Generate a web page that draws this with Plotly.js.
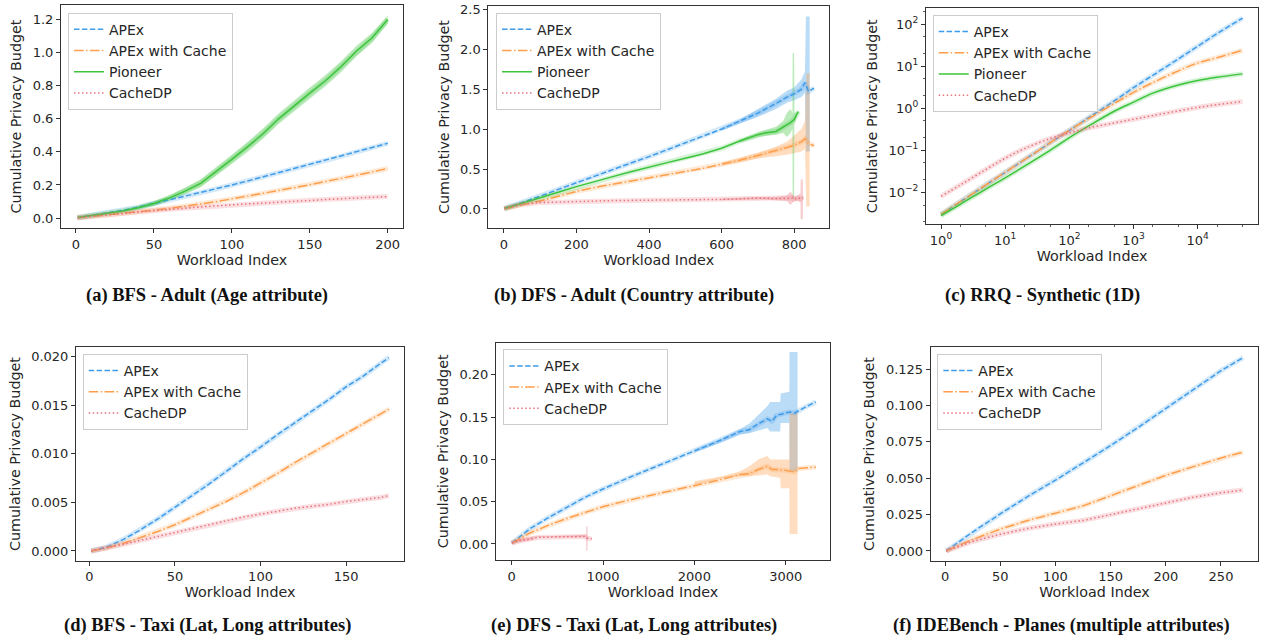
<!DOCTYPE html>
<html><head><meta charset="utf-8">
<script src="https://cdn.plot.ly/plotly-3.0.1.min.js"></script>
<style>body{margin:0;background:#fff}#chart{width:1262px;height:639px}</style>
</head><body><div id="chart"></div>
<script>
// ---------- Panel (a) BFS - Adult ----------
const aX = [1,10,20,30,40,50,60,70,80,90,100,110,120,130,140,150,160,170,180,190,200];
const aApex = [0.003,0.016,0.031,0.047,0.066,0.088,0.108,0.13,0.153,0.176,0.2,0.224,0.249,0.273,0.298,0.323,0.348,0.373,0.4,0.425,0.452];
const aCache = [0.002,0.01,0.018,0.027,0.037,0.048,0.059,0.071,0.084,0.099,0.116,0.132,0.149,0.166,0.184,0.202,0.22,0.239,0.259,0.279,0.3];
const aPioneer = [0.003,0.014,0.027,0.043,0.063,0.088,0.122,0.163,0.21,0.28,0.355,0.43,0.51,0.6,0.68,0.755,0.83,0.915,1.01,1.09,1.2];
const aPioneerLo = [0.003,0.011,0.021,0.035,0.053,0.075,0.106,0.143,0.186,0.254,0.327,0.4,0.479,0.568,0.647,0.721,0.797,0.882,0.978,1.06,1.175];
const aPioneerHi = [0.003,0.017,0.033,0.051,0.073,0.101,0.138,0.183,0.234,0.306,0.383,0.46,0.541,0.632,0.713,0.789,0.863,0.948,1.042,1.12,1.225];
const aCacheDP = [0.002,0.011,0.02,0.028,0.037,0.045,0.053,0.06,0.067,0.074,0.08,0.086,0.092,0.097,0.102,0.107,0.112,0.117,0.121,0.125,0.13];

// ---------- Panel (b) DFS - Adult ----------
const bX = [1,50,100,150,200,250,300,350,400,450,500,550,600,650,700,750,780,800,820,830,840,850,855];
const bApex = [0.005,0.08,0.16,0.245,0.33,0.41,0.49,0.575,0.655,0.74,0.83,0.915,1.0,1.1,1.2,1.32,1.4,1.44,1.5,1.58,1.47,1.5,1.51];
const bCache = [0.003,0.05,0.1,0.16,0.22,0.27,0.31,0.35,0.39,0.43,0.47,0.51,0.56,0.61,0.67,0.73,0.77,0.8,0.84,0.88,0.82,0.8,0.79];
const bPX = [1,50,100,150,200,250,300,350,400,450,500,550,600,650,700,720,750,770,780,790,800,812];
const bPioneer = [0.005,0.07,0.14,0.21,0.28,0.345,0.405,0.465,0.525,0.58,0.635,0.69,0.76,0.85,0.93,0.95,0.97,1.02,1.05,1.08,1.12,1.22];
const bCX = [1,50,100,200,300,400,500,600,700,750,780,795,800,810,818,825];
const bCacheDP = [0.005,0.06,0.08,0.095,0.105,0.11,0.115,0.12,0.135,0.13,0.13,0.14,0.12,0.14,0.13,0.14];
const bApexBandX = [600,650,700,750,780,800,820,830,832.5,843];
const bApexBandHi = [1.02,1.12,1.25,1.38,1.48,1.52,1.62,1.72,2.41,2.41];
const bApexBandLo = [0.98,1.07,1.15,1.25,1.33,1.36,1.4,1.45,0.72,0.72];
const bCacheBandX = [600,700,750,780,800,820,830,833.5,843];
const bCacheBandHi = [0.58,0.7,0.78,0.84,0.92,1.0,1.1,1.7,1.7];
const bCacheBandLo = [0.54,0.63,0.66,0.68,0.7,0.72,0.75,0.03,0.03];
const bPioneerBandX = [650,700,750,770,780,790,795.5,796,800,800.5,801,812];
const bPioneerBandHi = [0.87,0.96,1.03,1.1,1.2,1.25,1.2,1.95,1.95,1.2,1.2,1.22];
const bPioneerBandLo = [0.83,0.9,0.93,0.95,0.9,0.95,1.0,0.13,0.13,1.05,1.05,1.22];
const bCacheDPBandX = [600,700,750,780,790,800,810,817.5,818,824,824.5,826];
const bCacheDPBandHi = [0.13,0.15,0.15,0.17,0.22,0.16,0.17,0.2,0.37,0.37,0.16,0.16];
const bCacheDPBandLo = [0.11,0.12,0.11,0.1,0.05,0.1,0.1,0.08,-0.13,-0.13,0.12,0.12];

// ---------- Panel (c) RRQ - Synthetic (log-log) ----------
const cX = [1,2,5,10,20,50,100,200,500,1000,2000,5000,10000,20000,50000];
const cApex = [0.003,0.006,0.015,0.03,0.06,0.15,0.3,0.6,1.5,3.1,6.1,15,30,60,140];
const cCache = [0.003,0.006,0.015,0.03,0.06,0.15,0.3,0.57,1.3,2.4,4.1,7.8,12,16,24];
const cPioneer = [0.0028,0.0052,0.012,0.022,0.042,0.1,0.2,0.38,0.85,1.4,2.3,3.6,4.6,5.5,6.6];
const cCacheDP = [0.008,0.015,0.035,0.065,0.11,0.19,0.26,0.34,0.45,0.55,0.67,0.87,1.05,1.22,1.45];

// ---------- Panel (d) BFS - Taxi ----------
const dX = [1,10,20,30,40,50,60,70,80,90,100,110,120,130,140,150,160,170,175];
const dApex = [0,0.0004,0.0012,0.0022,0.0033,0.0045,0.0057,0.0069,0.0082,0.0095,0.0107,0.012,0.0132,0.0144,0.0156,0.0169,0.018,0.0193,0.0199];
const dCache = [0,0.0003,0.0008,0.0014,0.002,0.0027,0.0035,0.0043,0.0051,0.006,0.007,0.008,0.0091,0.0101,0.0111,0.0121,0.0131,0.0141,0.0146];
const dCacheDP = [0,0.0003,0.0007,0.0011,0.0015,0.0019,0.0023,0.0027,0.0031,0.0035,0.0038,0.0041,0.0044,0.0046,0.0048,0.0051,0.0053,0.0055,0.0057];

// ---------- Panel (e) DFS - Taxi ----------
const eX = [1,100,200,400,600,800,1000,1250,1500,1750,2000,2250,2500,2600,2700,2800,2850,2900,3000,3050,3100,3130,3200,3330];
const eApex = [0.001,0.01,0.018,0.031,0.043,0.055,0.065,0.077,0.088,0.099,0.11,0.121,0.133,0.135,0.142,0.148,0.145,0.152,0.155,0.156,0.155,0.157,0.161,0.168];
const eCache = [0.001,0.007,0.013,0.022,0.03,0.037,0.044,0.051,0.057,0.063,0.069,0.075,0.082,0.083,0.088,0.092,0.088,0.088,0.087,0.086,0.085,0.089,0.09,0.091];
const eCX = [1,50,100,150,200,250,300,400,500,600,700,800,820,850,876];
const eCacheDP = [0.001,0.003,0.004,0.005,0.006,0.0075,0.0078,0.008,0.0082,0.0085,0.009,0.0088,0.007,0.006,0.006];
const eApexBandX = [2000,2300,2500,2600,2800,2830,2940,2945,3040,3042,3130];
const eApexBandHi = [0.112,0.125,0.136,0.142,0.163,0.168,0.168,0.178,0.18,0.227,0.227];
const eApexBandLo = [0.108,0.12,0.129,0.131,0.137,0.133,0.133,0.143,0.143,0.0856,0.0856];
const eCacheBandX = [2000,2300,2500,2600,2700,2800,2830,2940,2945,3040,3042,3130];
const eCacheBandHi = [0.074,0.08,0.086,0.092,0.1,0.104,0.1,0.1,0.1,0.1,0.155,0.155];
const eCacheBandLo = [0.07,0.077,0.08,0.08,0.081,0.082,0.08,0.078,0.066,0.066,0.0118,0.0118];
const eCacheDPBandX = [1,50,100,150,200,240,250,400,600,800,815,816,830,831,840,850];
const eCacheDPBandHi = [0.002,0.005,0.006,0.007,0.008,0.008,0.009,0.009,0.01,0.011,0.011,0.021,0.021,0.009,0.008,0.007];
const eCacheDPBandLo = [0.0,0.001,0.002,0.003,0.004,0.005,0.008,0.008,0.008,0.008,0.007,-0.008,-0.008,0.006,0.006,0.006];

// ---------- Panel (f) IDEBench - Planes ----------
const fX = [1,25,50,75,100,125,150,175,200,225,250,270];
const fApex = [0.0,0.013,0.0255,0.0375,0.0487,0.0605,0.0725,0.085,0.098,0.111,0.124,0.133];
const fCache = [0,0.008,0.015,0.021,0.026,0.031,0.038,0.045,0.052,0.058,0.064,0.068];
const fCacheDP = [0,0.0065,0.0115,0.0155,0.0185,0.021,0.025,0.029,0.033,0.037,0.04,0.042];

const captions = ['(a) BFS - Adult (Age attribute)','(b) DFS - Adult (Country attribute)','(c) RRQ - Synthetic (1D)',
  '(d) BFS - Taxi (Lat, Long attributes)','(e) DFS - Taxi (Lat, Long attributes)','(f) IDEBench - Planes (multiple attributes)'];

// ---------- styling ----------
const W = 1262, H = 639;
const COL = {apex:'#3d9be9', cache:'#ff9e4a', pioneer:'#3cc43c', cachedp:'#e8737b'};
const DASH = {apex:'5.5px,2.4px', cache:'9.6px,2.4px,1.5px,2.4px', pioneer:'solid', cachedp:'1.5px,2.5px'};
const NAME = {apex:'APEx', cache:'APEx with Cache', pioneer:'Pioneer', cachedp:'CacheDP'};
function rgba(hex, a){const n=parseInt(hex.slice(1),16);return `rgba(${n>>16&255},${n>>8&255},${n&255},${a})`;}
const traces = [];
function sfx(p){return p===1?'':String(p);}
function band(p,key,x,lo,hi){
  traces.push({type:'scatter',mode:'lines',x:x.concat(x.slice().reverse()),y:hi.concat(lo.slice().reverse()),
    xaxis:'x'+sfx(p),yaxis:'y'+sfx(p),fill:'toself',fillcolor:rgba(COL[key],0.35),line:{width:0,color:rgba(COL[key],0)},
    hoverinfo:'skip',showlegend:false});
}
function line(p,key,x,y,spline){
  traces.push({type:'scatter',mode:'lines',x:x,y:y,xaxis:'x'+sfx(p),yaxis:'y'+sfx(p),
    line:{color:rgba(COL[key],0.22),width:5,shape:spline?'spline':'linear'},hoverinfo:'skip',showlegend:false});
  traces.push({type:'scatter',mode:'lines',x:x,y:y,xaxis:'x'+sfx(p),yaxis:'y'+sfx(p),name:NAME[key],
    legend:p===1?'legend':'legend'+p,
    line:{color:COL[key],width:1.5,dash:DASH[key],shape:spline?'spline':'linear'}});
}

// panel a
band(1,'pioneer',aX,aPioneerLo,aPioneerHi);
line(1,'apex',aX,aApex); line(1,'cache',aX,aCache); line(1,'pioneer',aX,aPioneer); line(1,'cachedp',aX,aCacheDP);
// panel b
band(2,'apex',bApexBandX,bApexBandLo,bApexBandHi);
band(2,'cache',bCacheBandX,bCacheBandLo,bCacheBandHi);
band(2,'pioneer',bPioneerBandX,bPioneerBandLo,bPioneerBandHi);
band(2,'cachedp',bCacheDPBandX,bCacheDPBandLo,bCacheDPBandHi);
line(2,'apex',bX,bApex); line(2,'cache',bX,bCache); line(2,'pioneer',bPX,bPioneer); line(2,'cachedp',bCX,bCacheDP);
// panel c
line(3,'apex',cX,cApex,true); line(3,'cache',cX,cCache,true); line(3,'pioneer',cX,cPioneer,true); line(3,'cachedp',cX,cCacheDP,true);
// panel d
line(4,'apex',dX,dApex); line(4,'cache',dX,dCache); line(4,'cachedp',dX,dCacheDP);
// panel e
band(5,'apex',eApexBandX,eApexBandLo,eApexBandHi);
band(5,'cache',eCacheBandX,eCacheBandLo,eCacheBandHi);
band(5,'cachedp',eCacheDPBandX,eCacheDPBandLo,eCacheDPBandHi);
line(5,'apex',eX,eApex); line(5,'cache',eX,eCache); line(5,'cachedp',eCX,eCacheDP);
// panel f
line(6,'apex',fX,fApex); line(6,'cache',fX,fCache); line(6,'cachedp',fX,fCacheDP);

const TF = {family:'DejaVu Sans', size:13, color:'#262626'};
const TTF = {family:'DejaVu Sans', size:14.3, color:'#262626'};
function xpx(a,b){return [a/W,b/W];}
function ypx(top,bot){return [1-bot/H,1-top/H];}
const base = {showline:true,mirror:true,linecolor:'#333',linewidth:1,ticks:'outside',ticklen:4,tickwidth:1,tickcolor:'#333',
  showgrid:false,zeroline:false,tickfont:TF,automargin:false};
const panels = [
  {xd:xpx(61,403),yd:ypx(5,228),xr:[-9.6,209.8],yr:[-0.06,1.288],xt:[0,50,100,150,200],yt:[0,0.2,0.4,0.6,0.8,1.0,1.2],yf:'.1f'},
  {xd:xpx(488.3,829.3),yd:ypx(6,228),xr:[-43,897],yr:[-0.238,2.54],xt:[0,200,400,600,800],yt:[0,0.5,1,1.5,2,2.5],yf:'.1f'},
  {xd:xpx(926,1258.3),yd:ypx(8.3,224.3),xr:[-0.234,4.944],yr:[-2.76,2.38],log:true},
  {xd:xpx(76,404.3),yd:ypx(347.3,560.7),xr:[-7.8,184],yr:[-0.001,0.02097],xt:[0,50,100,150],yt:[0,0.005,0.01,0.015,0.02],yf:'.3f'},
  {xd:xpx(496,830),yd:ypx(342.7,560),xr:[-172,3485],yr:[-0.019,0.238],xt:[0,1000,2000,3000],yt:[0,0.05,0.1,0.15,0.2],yf:'.2f'},
  {xd:xpx(930.7,1258.3),yd:ypx(347.3,560.7),xr:[-13,283.8],yr:[-0.0067,0.1401],xt:[0,50,100,150,200,250],yt:[0,0.025,0.05,0.075,0.1,0.125],yf:'.3f'}
];
const legendPos = [[68,12.7],[496,12.7],[932.7,15],[82.7,354],[503.3,349.3],[937.3,354]];
const capPos = [[206.7,295],[634,295],[1042.5,295],[207.5,625],[634,625],[1061.7,625]];

const layout = {width:W,height:H,margin:{l:0,r:0,t:0,b:0},paper_bgcolor:'#fff',plot_bgcolor:'#fff',
  showlegend:true,annotations:[]};
panels.forEach((P,i)=>{
  const p=i+1, s=sfx(p);
  const xa = Object.assign({},base,{domain:P.xd,anchor:'y'+s,range:P.xr,
    title:{text:'Workload Index',font:TTF,standoff:3}});
  const ya = Object.assign({},base,{domain:P.yd,anchor:'x'+s,range:P.yr,
    title:{text:'Cumulative Privacy Budget',font:TTF,standoff:7}});
  if(P.log){
    xa.type='log'; ya.type='log';
    xa.tickvals=[1,10,100,1000,10000]; xa.ticktext=['10<sup>0</sup>','10<sup>1</sup>','10<sup>2</sup>','10<sup>3</sup>','10<sup>4</sup>'];
    ya.tickvals=[0.01,0.1,1,10,100]; ya.ticktext=['10<sup>−2</sup>','10<sup>−1</sup>','10<sup>0</sup>','10<sup>1</sup>','10<sup>2</sup>'];
    xa.tickmode='array'; ya.tickmode='array';
    xa.minor={ticks:'outside',ticklen:2,tickwidth:0.8,tickcolor:'#333',showgrid:false};
    ya.minor={ticks:'outside',ticklen:2,tickwidth:0.8,tickcolor:'#333',showgrid:false};
  } else {
    xa.tickmode='array'; xa.tickvals=P.xt; xa.tickformat='d';
    ya.tickmode='array'; ya.tickvals=P.yt; ya.tickformat=P.yf;
  }
  layout['xaxis'+s]=xa; layout['yaxis'+s]=ya;
  const lg = {x:legendPos[i][0]/W,y:1-legendPos[i][1]/H,xanchor:'left',yanchor:'top',
    bgcolor:'rgba(255,255,255,0.85)',bordercolor:'#cccccc',borderwidth:1,
    font:{family:'DejaVu Sans',size:14,color:'#262626'},tracegroupgap:0,itemwidth:30};
  layout[p===1?'legend':'legend'+p]=lg;
  layout.annotations.push({xref:'paper',yref:'paper',x:capPos[i][0]/W,y:1-capPos[i][1]/H,xanchor:'center',yanchor:'middle',
    showarrow:false,text:captions[i],font:{family:'Liberation Serif',size:18.5,color:'#111',weight:'bold'}});
});
Plotly.newPlot('chart',traces,layout,{staticPlot:true,displayModeBar:false});
</script></body></html>
